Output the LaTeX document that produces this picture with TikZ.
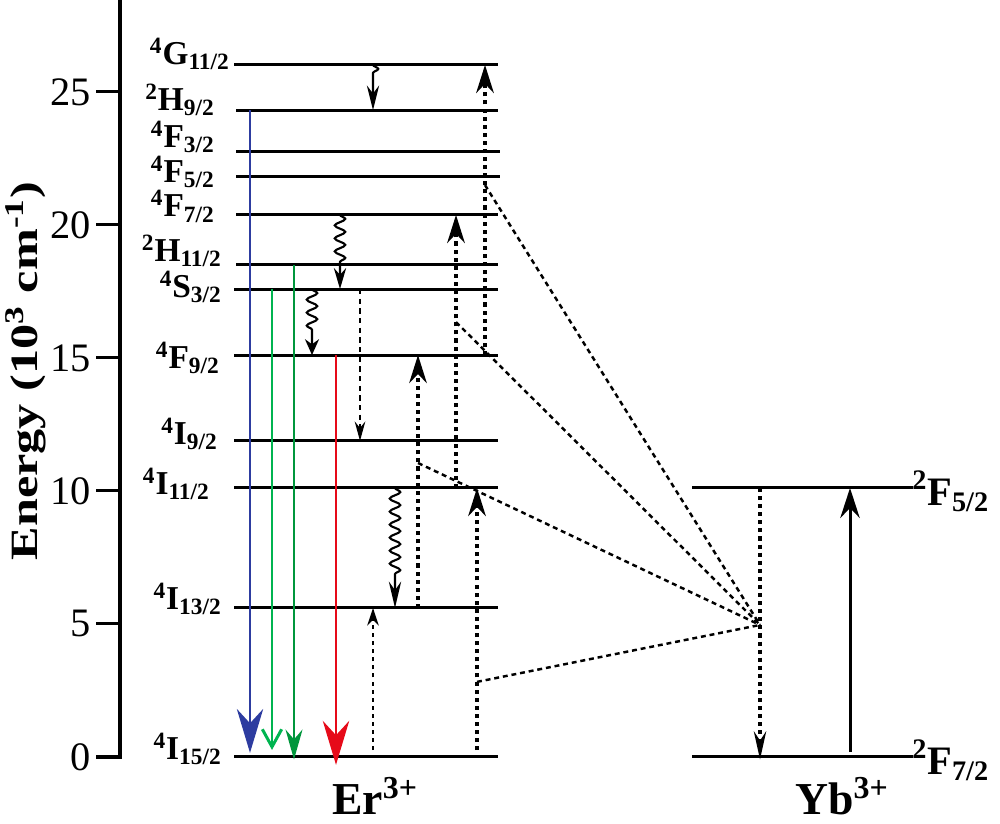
\documentclass[tikz,border=0pt]{standalone}
\usepackage{fontspec}
\setmainfont{Liberation Serif}
\usepackage{tikz}
\usepackage{xcolor}
\usetikzlibrary{arrows.meta,decorations.pathmorphing}
\definecolor{bluelum}{RGB}{45,60,160}
\definecolor{greenlum}{RGB}{0,180,80}
\definecolor{dgreenlum}{RGB}{0,150,60}
\definecolor{redlum}{RGB}{230,10,25}

\begin{document}
\begin{tikzpicture}[x=0.02cm, y=0.532cm, >=Stealth,
    level/.style={line width=1.7pt},
    tick/.style={font=\fontsize{23}{26}\selectfont, inner sep=0pt, anchor=east},
    term/.style={font=\fontsize{19}{21}\selectfont\bfseries, inner sep=0pt, anchor=base east},
    ion/.style={font=\fontsize{26}{28}\selectfont\bfseries, inner sep=0pt, anchor=base},
    dotup/.style={line width=2pt, dash pattern=on 2.3pt off 2.3pt, -{Stealth[length=16pt,width=10pt]}},
    etline/.style={line width=1.4pt, dash pattern=on 2.8pt off 2.2pt},
    relax/.style={line width=1.2pt, decorate, decoration={snake, amplitude=3pt, segment length=7.4pt, post length=#1}},
    relax/.default=15pt]
    \useasboundingbox (0,-2.519) rectangle (1000,28.459);

    % Energy axis
    \draw[line width=2.6pt] (96,0) -- (120,0) -- (120,28.6);
    \draw[line width=1.7pt] (96,5) -- (120,5);
    \draw[line width=1.7pt] (96,10) -- (120,10);
    \draw[line width=1.7pt] (96,15) -- (120,15);
    \draw[line width=1.7pt] (96,20) -- (120,20);
    \draw[line width=1.7pt] (96,25) -- (120,25);
    \node[tick] (t0) at (91,0) {0};
    \node[tick] (t5) at (91,5) {5};
    \node[tick] (t10) at (91,10) {10};
    \node[tick] (t15) at (91,15) {15};
    \node[tick] (t20) at (91,20) {20};
    \node[tick] (t25) at (91,25) {25};
    \node[rotate=90, anchor=base, inner sep=0pt, font=\fontsize{22}{26}\selectfont\bfseries] (ylab) at (37,14.51)
        {\scalebox{1.3}[1]{Energy (10\textsuperscript{3} cm\textsuperscript{-1})}};

    % Er3+ levels
    \draw[level] (234,26.02) -- (498,26.02);
    \draw[level] (236,24.32) -- (498,24.32);
    \draw[level] (236,22.78) -- (500,22.78);
    \draw[level] (236,21.84) -- (500,21.84);
    \draw[level] (236,20.38) -- (498,20.38);
    \draw[level] (236,18.50) -- (498,18.50);
    \draw[level] (234,17.59) -- (498,17.59);
    \draw[level] (234,15.11) -- (498,15.11);
    \draw[level] (234,11.88) -- (498,11.88);
    \draw[level] (234,10.11) -- (498,10.11);
    \draw[level] (234,5.60) -- (498,5.60);
    \draw[level] (234,0) -- (498,0);
    \node[term] (G112) at (230,26.02) {\textsuperscript{4}G\textsubscript{11/2}};
    \node[term] (H92) at (215,24.29) {\textsuperscript{2}H\textsubscript{9/2}};
    \node[term] (F32) at (215,22.93) {\textsuperscript{4}F\textsubscript{3/2}};
    \node[term] (F52) at (215,21.58) {\textsuperscript{4}F\textsubscript{5/2}};
    \node[term] (F72) at (215,20.30) {\textsuperscript{4}F\textsubscript{7/2}};
    \node[term] (H112) at (222,18.61) {\textsuperscript{2}H\textsubscript{11/2}};
    \node[term] (S32) at (222,17.26) {\textsuperscript{4}S\textsubscript{3/2}};
    \node[term] (F92) at (220,14.62) {\textsuperscript{4}F\textsubscript{9/2}};
    \node[term] (I92) at (218,11.73) {\textsuperscript{4}I\textsubscript{9/2}};
    \node[term] (I112) at (210,9.85) {\textsuperscript{4}I\textsubscript{11/2}};
    \node[term] (I132) at (222,5.53) {\textsuperscript{4}I\textsubscript{13/2}};
    \node[term] (I152) at (222,-0.11) {\textsuperscript{4}I\textsubscript{15/2}};
    \node[ion] (er) at (375,-2.15) {Er\textsuperscript{3+}};

    % Yb3+ levels
    \draw[level] (692,10.11) -- (913,10.11);
    \draw[level] (692,0) -- (913,0);
    \node[term, font=\fontsize{23}{25}\selectfont\bfseries, anchor=base west] (F52yb) at (912,9.47) {\textsuperscript{2}F\textsubscript{5/2}};
    \node[term, font=\fontsize{23}{25}\selectfont\bfseries, anchor=base west] (F72yb) at (912,-0.66) {\textsuperscript{2}F\textsubscript{7/2}};
    \node[ion] (yb) at (842,-2.15) {Yb\textsuperscript{3+}};

    % emissions
    \draw[line width=1.1pt, bluelum, -{Stealth[length=25pt,width=15pt]}] (250,24.32) -- (250,0.15);
    \draw[line width=1.7pt, greenlum, -{Straight Barb[length=10pt,width=11pt]}] (272,17.59) -- (272,0.26);
    \draw[line width=1.7pt, dgreenlum, -{Stealth[length=17pt,width=9.6pt]}] (294,18.50) -- (294,-0.1);
    \draw[line width=1.7pt, redlum, -{Stealth[length=25pt,width=15pt]}] (336,15.11) -- (336,-0.3);

    % nonradiative relaxation
    \draw[relax=18pt, -{Stealth[length=14pt,width=7pt]}] (373,26.02) -- (373,24.32);
    \draw[relax=15pt, -{Stealth[length=12pt,width=7pt]}] (340,20.38) -- (340,17.59);
    \draw[relax=11pt, -{Stealth[length=9pt,width=8pt]}] (312,17.59) -- (312,15.11);
    \draw[relax=17pt, -{Stealth[length=15pt,width=7pt]}] (395,10.11) -- (395,5.60);
    \draw[line width=1.1pt, dash pattern=on 3pt off 2.5pt, -{Stealth[length=11pt,width=6pt]}] (360,17.59) -- (360,11.88);

    % excitation and energy transfer
    \draw[dotup, line width=1.4pt, -{Stealth[length=10pt,width=6.5pt]}] (373,0.25) -- (373,5.60);
    \draw[dotup] (418,5.60) -- (418,15.11);
    \draw[dotup] (477,0.25) -- (477,10.11);
    \draw[dotup] (456,10.11) -- (456,20.38);
    \draw[dotup] (485,15.11) -- (485,26.02);
    \coordinate (et) at (760,4.96);
    \draw[etline] (485,21.5) -- (et);
    \draw[etline] (456,16.35) -- (et);
    \draw[etline] (418,11.05) -- (et);
    \draw[etline] (477,2.82) -- (et);
    \draw[dotup, -{Stealth[length=16pt,width=7pt]}] (760,10.11) -- (760,-0.1);
    \draw[line width=1.7pt, -{Stealth[length=17pt,width=11pt]}] (850,0.2) -- (850,10.11);
\end{tikzpicture}
\end{document}
